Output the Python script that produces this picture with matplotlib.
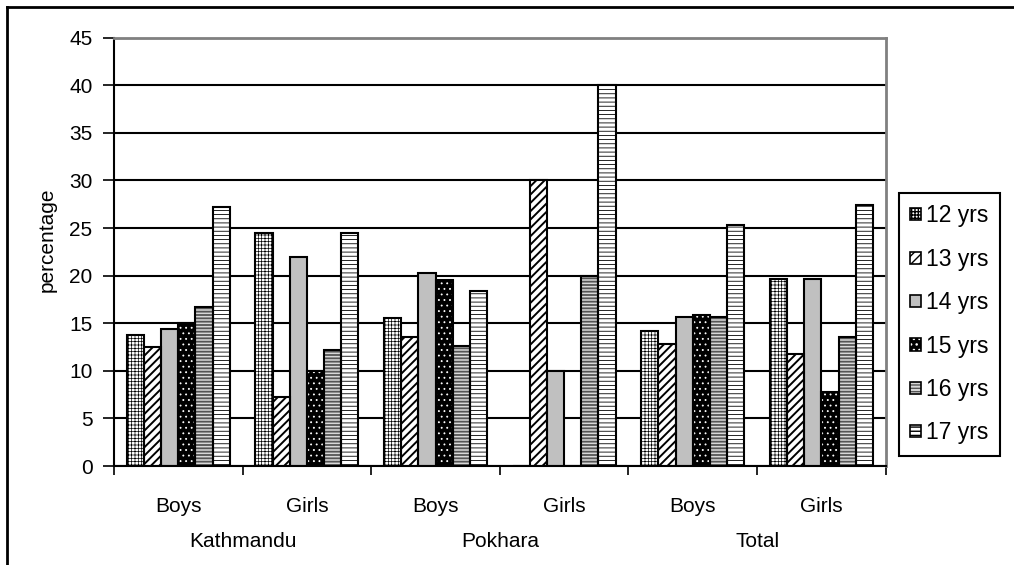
import matplotlib
matplotlib.use("Agg")
import matplotlib.pyplot as plt
import matplotlib.transforms as mtransforms
from matplotlib.patches import Patch
from matplotlib.lines import Line2D
import numpy as np

plt.rcParams['font.family'] = ['Liberation Sans', 'DejaVu Sans']

# groups along the x axis
places = ["Kathmandu", "Pokhara", "Total"]
sexes = ["Boys", "Girls", "Boys", "Girls", "Boys", "Girls"]
ages = ["12 yrs", "13 yrs", "14 yrs", "15 yrs", "16 yrs", "17 yrs"]

# percentage per age, one value per group (Kathmandu B/G, Pokhara B/G, Total B/G)
age12 = [13.8, 24.5, 15.5, 0.0, 14.2, 19.7]
age13 = [12.5, 7.3, 13.6, 30.0, 12.8, 11.8]
age14 = [14.4, 22.0, 20.3, 10.0, 15.7, 19.7]
age15 = [15.0, 10.0, 19.5, 0.0, 15.9, 7.8]
age16 = [16.7, 12.2, 12.6, 20.0, 15.7, 13.6]
age17 = [27.2, 24.5, 18.4, 40.0, 25.3, 27.4]
series = [age12, age13, age14, age15, age16, age17]

# (face colour, hatch, hatch colour, hatch line width)
styles = [
    ("white", "+++++", "black", 0.5),
    ("white", "////", "black", 1.4),
    ("#c0c0c0", "", "#c0c0c0", 0.5),
    ("black", "...", "white", 0.6),
    ("#d8d8d8", "-----", "#555555", 1.3),
    ("white", "----", "black", 0.6),
]

fig = plt.figure(figsize=(10.14, 5.65), dpi=100)
ax = fig.add_axes([0.1124, 0.17522, 0.8735 - 0.1124, 0.93327 - 0.17522])

n = len(series)
width = 1 / 7.5
x = np.arange(len(sexes)) + 0.5

for j, vals in enumerate(series):
    face, hatch, hcol, hlw = styles[j]
    pos = x + (j - (n - 1) / 2) * width
    with plt.rc_context({'hatch.linewidth': hlw}):
        ax.bar(pos, vals, width, color=face, hatch=hatch, edgecolor=hcol,
               linewidth=0, zorder=2)
    ax.bar(pos, vals, width, fill=False, edgecolor="black", linewidth=1.5,
           zorder=3)

ax.set_xlim(0, len(sexes))
ax.set_ylim(0, 45)
ax.set_yticks(np.arange(0, 46, 5))
ax.yaxis.grid(True, color="black", linewidth=1.5, zorder=0)
ax.set_axisbelow(True)

ax.set_xticks(np.arange(0, len(sexes) + 1))
ax.set_xticklabels([])
ax.tick_params(axis="x", direction="out", length=6.5, width=1.2, color="black")
ax.tick_params(axis="y", direction="out", length=8, width=1.2, pad=7.5,
               labelsize=15)

for side in ["top", "right"]:
    ax.spines[side].set_color("#808080")
    ax.spines[side].set_linewidth(2)
for side in ["left", "bottom"]:
    ax.spines[side].set_color("black")
    ax.spines[side].set_linewidth(1.5)

# two-level category labels under the axis
trans = mtransforms.blended_transform_factory(ax.transData, fig.transFigure)
for xi, s in zip(x, sexes):
    ax.text(xi, 1 - 511.5 / 565, s, transform=trans, ha="center",
            va="baseline", fontsize=15)
for k, p in enumerate(places):
    ax.text(2 * k + 1, 1 - 547 / 565, p, transform=trans, ha="center",
            va="baseline", fontsize=15)

fig.text(47 / 1014, 1 - 240 / 565, "percentage", rotation=90, ha="center",
         va="center", fontsize=15)

handles = []
for face, hatch, hcol, hlw in styles:
    with plt.rc_context({'hatch.linewidth': hlw}):
        fillp = Patch(facecolor=face, hatch=hatch, edgecolor=hcol, linewidth=0)
    handles.append((fillp, Patch(fill=False, edgecolor="black", linewidth=1.2)))

leg = fig.legend(handles, ages, loc="upper left",
                 bbox_to_anchor=(899 / 1014, 1 - 193 / 565),
                 bbox_transform=fig.transFigure, fontsize=16.5,
                 handlelength=0.45, handleheight=0.45, handletextpad=0.25,
                 labelspacing=0.89, borderpad=0.5, borderaxespad=0,
                 fancybox=False, framealpha=1)
leg.get_frame().set_edgecolor("black")
leg.get_frame().set_linewidth(1.5)

# chart border, top and left edges
fig.add_artist(Line2D([7 / 1014, 7 / 1014], [0, 1 - 7 / 565],
                      transform=fig.transFigure, color="black", linewidth=2))
fig.add_artist(Line2D([7 / 1014, 1], [1 - 7 / 565, 1 - 7 / 565],
                      transform=fig.transFigure, color="black", linewidth=2))

fig.savefig("out.png", dpi=100)
